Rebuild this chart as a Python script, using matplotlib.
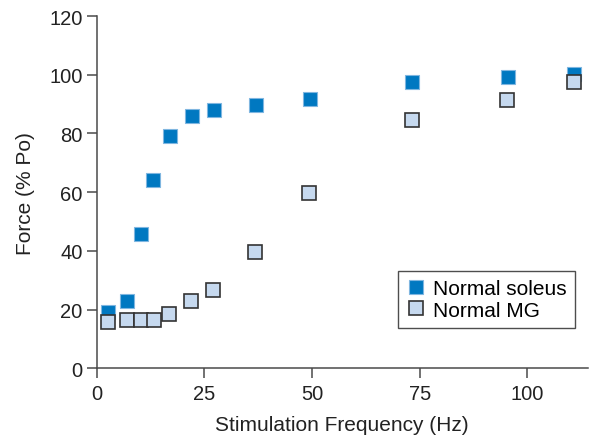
import matplotlib
matplotlib.use("Agg")
import matplotlib.pyplot as plt

plt.rcParams['font.family'] = ['Liberation Sans', 'DejaVu Sans']

# stimulation frequency (Hz) and force (% Po)
soleus_hz = [2.6, 7.0, 10.3, 13.2, 17.0, 22.1, 27.2, 37.0, 49.5, 73.3, 95.4, 110.7]
soleus_force = [19.3, 22.9, 45.7, 64.3, 79.2, 85.8, 88.1, 89.7, 91.8, 97.6, 99.3, 100.2]

mg_hz = [2.6, 7.0, 10.2, 13.3, 16.9, 22.0, 27.0, 36.8, 49.3, 73.2, 95.3, 110.7]
mg_force = [15.6, 16.5, 16.5, 16.5, 18.4, 22.9, 26.6, 39.5, 59.7, 84.7, 91.5, 97.5]

xticks = [0, 25, 50, 75, 100]
yticks = [0, 20, 40, 60, 80, 100, 120]

fig = plt.figure(figsize=(5.89, 4.39), dpi=100)
ax = fig.add_axes([0.164, 0.159, 0.834, 0.802])

ax.plot(soleus_hz, soleus_force, 's', ms=10.5, mfc='#0078c1', mec='#7fb6e0',
        mew=0.8, ls='none', label='Normal soleus', clip_on=False, zorder=3)
ax.plot(mg_hz, mg_force, 's', ms=10.5, mfc='#c6d9ef', mec='#333333',
        mew=1.2, ls='none', label='Normal MG', clip_on=False, zorder=4)

ax.set_xlim(0, 114)
ax.set_ylim(0, 120)
ax.set_xticks(xticks)
ax.set_yticks(yticks)

for side in ['top', 'right']:
    ax.spines[side].set_visible(False)
for side in ['left', 'bottom']:
    ax.spines[side].set_color('#4a4a4a')
    ax.spines[side].set_linewidth(1.1)
ax.tick_params(direction='out', length=7.2, width=1.1, color='#4a4a4a',
               labelsize=14.5, labelcolor='#222222')
ax.tick_params(axis='x', pad=4)
ax.tick_params(axis='y', pad=3)

ax.set_xlabel('Stimulation Frequency (Hz)', fontsize=15, color='#222222', labelpad=9)
ax.set_ylabel('Force (% Po)', fontsize=15, color='#222222', labelpad=10)

leg = ax.legend(loc='lower right', bbox_to_anchor=(0.9735, 0.1145), fontsize=15,
                frameon=True, fancybox=False, edgecolor='#222222',
                handletextpad=0.35, borderpad=0.4, labelspacing=0.12,
                handlelength=0.9, borderaxespad=0)
leg.get_frame().set_linewidth(1.0)

fig.savefig('out.png', dpi=100)
